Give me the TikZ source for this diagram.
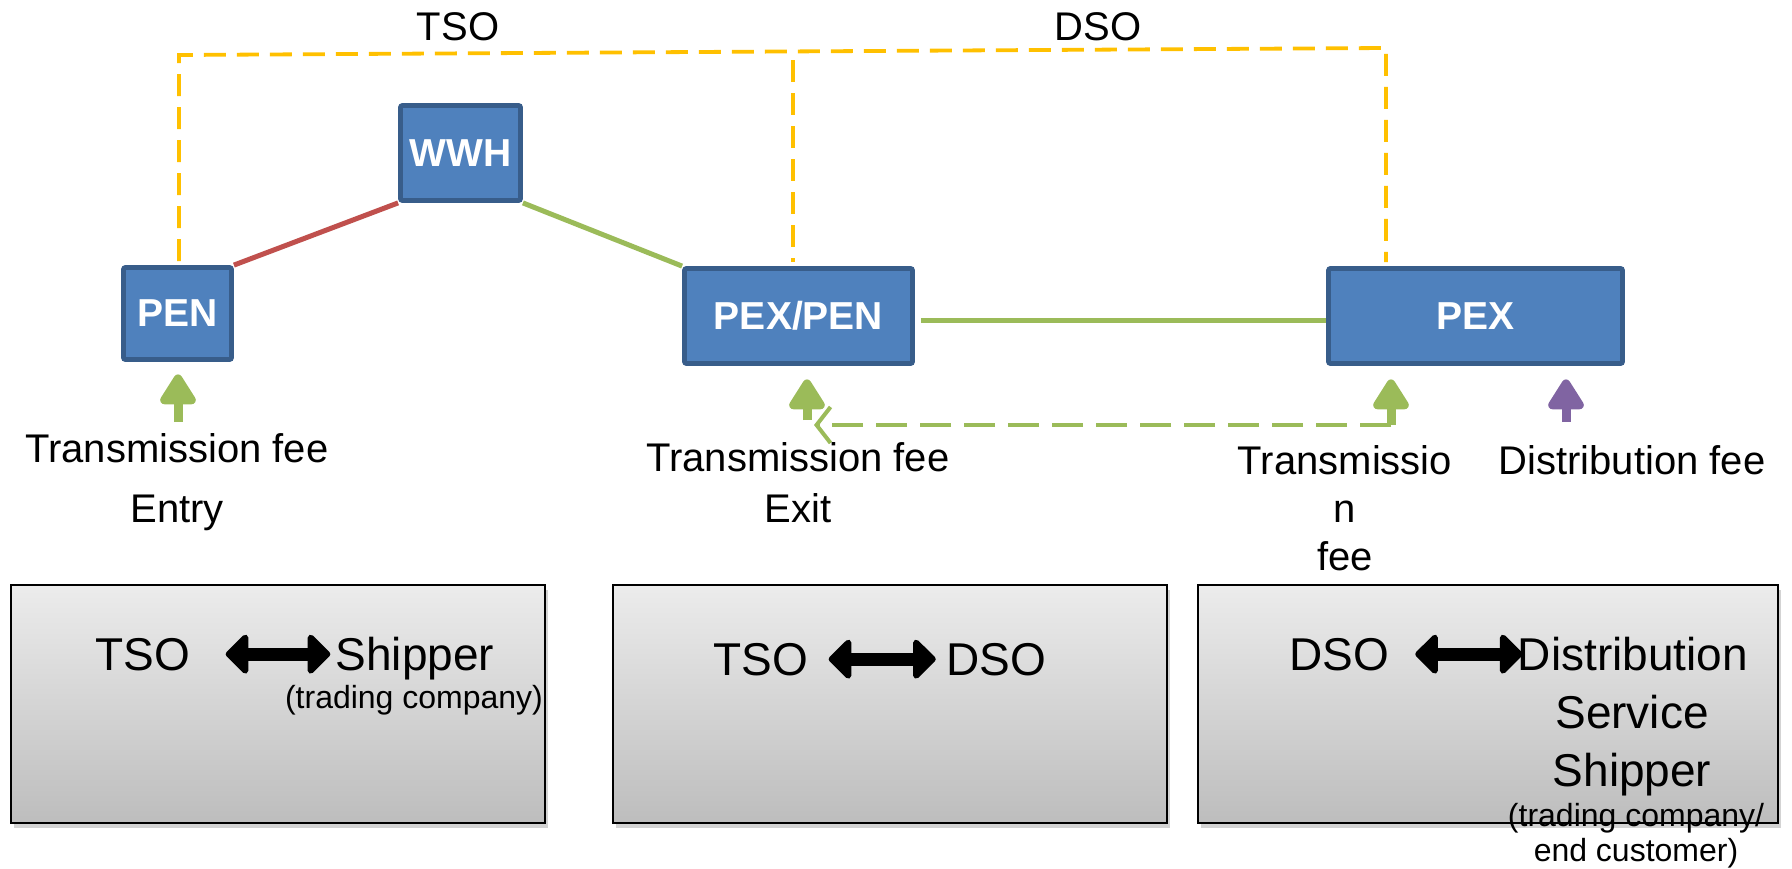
\documentclass[tikz,border=0pt]{standalone}
\usepackage{fontspec}
\setmainfont{Liberation Sans}
\usetikzlibrary{arrows.meta,shadows}

\definecolor{nodefill}{HTML}{4F81BD}
\definecolor{nodeline}{HTML}{385D8A}
\definecolor{linkred}{HTML}{C0504D}
\definecolor{linkgreen}{HTML}{9BBB59}
\definecolor{feepurple}{HTML}{8064A2}
\definecolor{opline}{HTML}{FFC000}
\definecolor{paneltop}{HTML}{ECECEC}
\definecolor{panelbot}{HTML}{BDBDBD}

\begin{document}
\begin{tikzpicture}[x=0.5pt,y=-0.5pt,
  station/.style={draw=nodeline, fill=nodefill, line width=2.4pt, rounded corners=1pt,
    text=white, font=\bfseries\fontsize{19.5}{23}\selectfont, inner sep=0pt},
  panel/.style={draw=black, line width=0.9pt, top color=paneltop, bottom color=panelbot,
    drop shadow={shadow xshift=1.5pt, shadow yshift=-2.5pt, opacity=0.35}, inner sep=0pt},
  link/.style={line width=2.5pt},
  opbound/.style={draw=opline, line width=1.9pt, dash pattern=on 11pt off 5.5pt},
  feearrow/.style={line width=4.5pt, -{Triangle[round,length=17pt,width=20pt]}},
  feetext/.style={font=\fontsize{20}{24}\selectfont, anchor=base, inner sep=0pt},
  roletext/.style={font=\fontsize{23}{28}\selectfont, anchor=base, inner sep=0pt},
  smalltext/.style={font=\fontsize{16}{19}\selectfont, anchor=base, inner sep=0pt},
  relation/.style={line width=6.5pt, {Triangle[round,length=12pt,width=23pt]}-{Triangle[round,length=12pt,width=23pt]}},
]
\useasboundingbox (0,0) rectangle (1792,868);

% ---- network points ----
\node[station, minimum width=54pt, minimum height=46pt] (pen) at (177.5,313.5) {PEN};
\node[station, minimum width=60pt, minimum height=47.5pt] (wwh) at (460.5,153) {WWH};
\node[station, minimum width=114pt, minimum height=47.5pt] (pexpen) at (798.5,316) {PEX/PEN};
\node[station, minimum width=147pt, minimum height=47.5pt] (pex) at (1475.5,316) {PEX};

% ---- pipelines ----
\draw[link, linkred] (pen.north east) -- (wwh.south west);
\draw[link, linkgreen] (wwh.south east) -- (pexpen.north west);
\draw[link, linkgreen] ([shift={(3pt,-2pt)}]pexpen.east) -- ([yshift=-2pt]pex.west);

% ---- operator areas ----
\coordinate (tsoCorner) at (179,55);
\coordinate (dsoCorner) at (1386,48);
\coordinate (splitTop) at (793,60);
\draw[opbound, shorten <=2pt, shorten >=2pt]
  (tsoCorner |- pen.north) -- (tsoCorner) -- (dsoCorner) -- (dsoCorner |- pex.north);
\draw[opbound, shorten >=2pt] (splitTop) -- (splitTop |- pexpen.north);
\node[feetext] (tsoLabel) at (458,40) {TSO};
\node[feetext] (dsoLabel) at (1098,40) {DSO};

% ---- fees ----
\coordinate (entryFoot) at (178,422);
\coordinate (exitFoot) at (807,420);
\coordinate (pexFoot) at (1391,425);
\coordinate (distFoot) at (1566,422);
\coordinate (returnEnd) at (814,425);

\draw[linkgreen, line width=2pt, dash pattern=on 15.5pt off 6.5pt,
  -{Straight Barb[length=7pt,width=18pt]}] (pexFoot) -- (returnEnd);
\draw[feearrow, linkgreen, shorten >=6.25pt] (entryFoot) -- (entryFoot |- pen.south);
\draw[feearrow, linkgreen, shorten >=6.75pt] (exitFoot) -- (exitFoot |- pexpen.south);
\draw[feearrow, linkgreen, shorten >=6.75pt] (pexFoot) -- (pexFoot |- pex.south);
\draw[feearrow, feepurple, shorten >=6.75pt] (distFoot) -- (distFoot |- pex.south);

\node[feetext] (entryFee) at (177,462) {Transmission fee};
\node[feetext] (entryWord) at (177,522) {Entry};
\node[feetext] (exitFee) at (798,471) {Transmission fee};
\node[feetext] (exitWord) at (798,522) {Exit};
\node[feetext] (pexFeeA) at (1345,474) {Transmissio};
\node[feetext] (pexFeeB) at (1345,522) {n};
\node[feetext] (pexFeeC) at (1345,570) {fee};
\node[feetext] (distFee) at (1632,474) {Distribution fee};

% ---- contract panels ----
\node[panel, minimum width=267pt, minimum height=119pt] (panelTso) at (278,704) {};
\node[panel, minimum width=277pt, minimum height=119pt] (panelLink) at (890,704) {};
\node[panel, minimum width=290pt, minimum height=119pt] (panelDso) at (1488,704) {};

\node[roletext] (p1a) at (143,670) {TSO};
\node[roletext] (p1b) at (415,670) {Shipper};
\node[smalltext] (p1c) at (414,708) {(trading company)};
\draw[relation] ([xshift=17.5pt]p1a.east) -- ([xshift=-2.5pt]p1a.east -| p1b.west);

\node[roletext] (p2a) at (761,675) {TSO};
\node[roletext] (p2b) at (996,675) {DSO};
\draw[relation] ([xshift=10pt]p2a.east) -- ([xshift=-5pt]p2a.east -| p2b.west);

\node[roletext] (p3a) at (1339,670) {DSO};
\node[roletext] (p3b) at (1633,670) {Distribution};
\node[roletext] (p3c) at (1632,728) {Service};
\node[roletext] (p3d) at (1632,786) {Shipper};
\node[smalltext] (p3e) at (1636,826) {(trading company/};
\node[smalltext] (p3f) at (1636,861) {end customer)};
\draw[relation] ([xshift=13pt]p3a.east) -- ([xshift=2.5pt]p3a.east -| p3b.west);
\end{tikzpicture}
\end{document}
